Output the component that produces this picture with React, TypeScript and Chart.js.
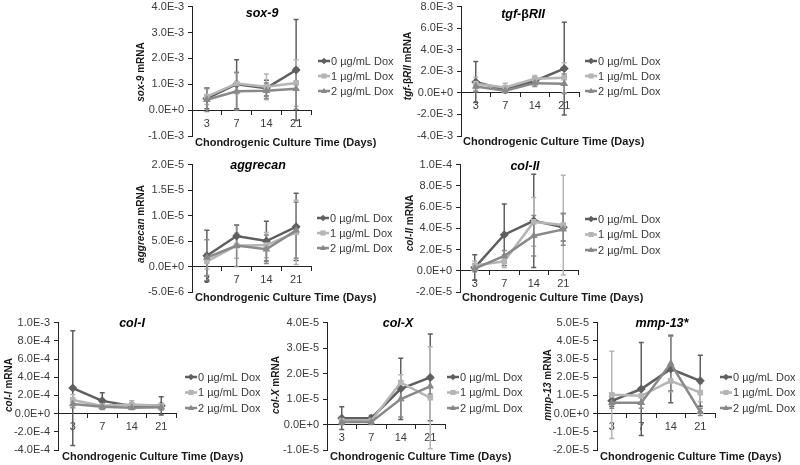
import React, { useEffect, useRef } from 'react';
import { Chart, registerables } from 'chart.js';

Chart.register(...registerables);

// ---------- data ----------
const categories = ['3', '7', '14', '21'];
const doseLabels = ['0 µg/mL Dox', '1 µg/mL Dox', '2 µg/mL Dox'];
const xAxisTitle = 'Chondrogenic Culture Time (Days)';

const sox9Dose0 = [4.5e-4, 1.0e-3, 8.5e-4, 1.55e-3];
const sox9Dose1 = [5.2e-4, 1.03e-3, 9.0e-4, 1.05e-3];
const sox9Dose2 = [4.0e-4, 7.3e-4, 7.5e-4, 8.3e-4];
const sox9Err0 = [4.0e-4, 9.5e-4, 3.0e-4, 1.95e-3];
const sox9Err1 = [3.0e-4, 4.0e-4, 5.0e-4, 9.0e-4];
const sox9Err2 = [4.5e-4, 7.3e-4, 3.0e-4, 8.0e-4];

const tgfDose0 = [1.0e-3, 3.0e-4, 1.1e-3, 2.25e-3];
const tgfDose1 = [8.5e-4, 5.0e-4, 1.3e-3, 1.4e-3];
const tgfDose2 = [6.0e-4, 2.0e-4, 9.0e-4, 8.5e-4];
const tgfErr0 = [1.9e-3, 2.0e-4, 3.0e-4, 4.3e-3];
const tgfErr1 = [6.0e-4, 4.0e-4, 3.0e-4, 1.4e-3];
const tgfErr2 = [5.0e-4, 2.0e-4, 3.0e-4, 9.0e-4];

const aggDose0 = [2.1e-6, 6.0e-6, 5.0e-6, 7.8e-6];
const aggDose1 = [1.0e-6, 4.1e-6, 4.2e-6, 6.7e-6];
const aggDose2 = [1.75e-6, 4.1e-6, 3.4e-6, 7.1e-6];
const aggErr0 = [5.0e-6, 2.1e-6, 3.9e-6, 6.6e-6];
const aggErr1 = [1.5e-6, 2.5e-6, 2.5e-6, 6.3e-6];
const aggErr2 = [3.5e-6, 4.1e-6, 2.8e-6, 5.5e-6];

const col2Dose0 = [3.0e-6, 3.4e-5, 4.7e-5, 4.1e-5];
const col2Dose1 = [5.0e-6, 9.0e-6, 4.6e-5, 4.3e-5];
const col2Dose2 = [2.0e-6, 1.4e-5, 3.3e-5, 3.9e-5];
const col2Err0 = [1.2e-5, 2.9e-5, 4.4e-5, 1.3e-5];
const col2Err1 = [4.0e-6, 6.0e-6, 2.3e-5, 4.7e-5];
const col2Err2 = [3.0e-6, 5.0e-6, 1.9e-5, 1.5e-5];

const col1Dose0 = [2.8e-4, 1.4e-4, 8.5e-5, 8.5e-5];
const col1Dose1 = [1.5e-4, 8.5e-5, 1.0e-4, 8.5e-5];
const col1Dose2 = [1.05e-4, 7.5e-5, 6.5e-5, 7.0e-5];
const col1Err0 = [6.3e-4, 9.0e-5, 2.0e-5, 1.0e-4];
const col1Err1 = [6.0e-5, 3.0e-5, 4.0e-5, 3.0e-5];
const col1Err2 = [4.0e-5, 3.0e-5, 2.0e-5, 3.0e-5];

const col10Dose0 = [2.5e-6, 2.5e-6, 1.4e-5, 1.85e-5];
const col10Dose1 = [1.5e-6, 1.5e-6, 1.65e-5, 1.05e-5];
const col10Dose2 = [1.0e-6, 1.0e-6, 1.0e-5, 1.5e-5];
const col10Err0 = [4.5e-6, 1.0e-6, 1.2e-5, 1.7e-5];
const col10Err1 = [1.5e-6, 1.0e-6, 3.0e-6, 2.0e-5];
const col10Err2 = [1.0e-6, 1.0e-6, 7.0e-6, 3.0e-6];

const mmpDose0 = [7.0e-6, 1.35e-5, 2.45e-5, 1.8e-5];
const mmpDose1 = [1.03e-5, 9.8e-6, 1.8e-5, 1.15e-5];
const mmpDose2 = [6.0e-6, 6.0e-6, 2.75e-5, 1.0e-6];
const mmpErr0 = [3.0e-6, 2.55e-5, 1.85e-5, 1.4e-5];
const mmpErr1 = [2.4e-5, 4.0e-6, 6.0e-6, 5.0e-6];
const mmpErr2 = [3.0e-6, 3.0e-6, 1.5e-5, 2.0e-6];

// ---------- style ----------
const seriesColors = ['#5f5f5f', '#b5b5b5', '#898989'];
const seriesStyles = ['rectRot', 'rect', 'triangle'];
const seriesRadii = [4.5, 4, 4.5];
const FONT = '"Liberation Sans", Arial, Helvetica, sans-serif';
const TEXT_COLOR = '#3a3a3a';
const AXIS_COLOR = '#222222';

type Seg = { t: string; i?: boolean };

interface PanelCfg {
  key: string;
  title: Seg[];
  yTitle: Seg[];
  values: number[][];
  errors: number[][];
  yMin: number;
  yMax: number;
  yStep: number;
  plot: [number, number, number, number];
  titleAt: [number, number];
  yTitleAt: [number, number];
  xTitleAt: [number, number];
  legendAt: [number, number, number];
}

const PANELS: PanelCfg[] = [
  {
    key: 'sox9',
    title: [{ t: 'sox-9', i: true }],
    yTitle: [{ t: 'sox-9', i: true }, { t: ' mRNA' }],
    values: [sox9Dose0, sox9Dose1, sox9Dose2],
    errors: [sox9Err0, sox9Err1, sox9Err2],
    yMin: -1e-3, yMax: 4e-3, yStep: 1e-3,
    plot: [192, 6, 311, 136],
    titleAt: [262, 14],
    yTitleAt: [141, 72],
    xTitleAt: [195, 143],
    legendAt: [318, 61, 15],
  },
  {
    key: 'tgf',
    title: [{ t: 'tgf-', i: true }, { t: 'β' }, { t: 'RII', i: true }],
    yTitle: [{ t: 'tgf-', i: true }, { t: 'β' }, { t: 'RII', i: true }, { t: ' mRNA' }],
    values: [tgfDose0, tgfDose1, tgfDose2],
    errors: [tgfErr0, tgfErr1, tgfErr2],
    yMin: -4e-3, yMax: 8e-3, yStep: 2e-3,
    plot: [461, 6, 579, 136],
    titleAt: [523, 15],
    yTitleAt: [408, 66],
    xTitleAt: [463, 142],
    legendAt: [585, 61, 15],
  },
  {
    key: 'agg',
    title: [{ t: 'aggrecan', i: true }],
    yTitle: [{ t: 'aggrecan', i: true }, { t: ' mRNA' }],
    values: [aggDose0, aggDose1, aggDose2],
    errors: [aggErr0, aggErr1, aggErr2],
    yMin: -5e-6, yMax: 2e-5, yStep: 5e-6,
    plot: [192, 164, 311, 292],
    titleAt: [258, 166],
    yTitleAt: [141, 224],
    xTitleAt: [195, 298],
    legendAt: [317, 218, 15],
  },
  {
    key: 'col2',
    title: [{ t: 'col-II', i: true }],
    yTitle: [{ t: 'col-II', i: true }, { t: ' mRNA' }],
    values: [col2Dose0, col2Dose1, col2Dose2],
    errors: [col2Err0, col2Err1, col2Err2],
    yMin: -2e-5, yMax: 1e-4, yStep: 2e-5,
    plot: [460, 164, 578, 292],
    titleAt: [525, 167],
    yTitleAt: [410, 223],
    xTitleAt: [462, 298],
    legendAt: [585, 219, 15.5],
  },
  {
    key: 'col1',
    title: [{ t: 'col-I', i: true }],
    yTitle: [{ t: 'col-I', i: true }, { t: ' mRNA' }],
    values: [col1Dose0, col1Dose1, col1Dose2],
    errors: [col1Err0, col1Err1, col1Err2],
    yMin: -4e-4, yMax: 1e-3, yStep: 2e-4,
    plot: [58, 322, 176, 450],
    titleAt: [132, 324],
    yTitleAt: [9, 385],
    xTitleAt: [62, 457],
    legendAt: [185, 377, 15.5],
  },
  {
    key: 'col10',
    title: [{ t: 'col-X', i: true }],
    yTitle: [{ t: 'col-X', i: true }, { t: ' mRNA' }],
    values: [col10Dose0, col10Dose1, col10Dose2],
    errors: [col10Err0, col10Err1, col10Err2],
    yMin: -1e-5, yMax: 4e-5, yStep: 1e-5,
    plot: [327, 322, 445, 450],
    titleAt: [398, 324],
    yTitleAt: [276, 385],
    xTitleAt: [330, 457],
    legendAt: [447, 377, 15.5],
  },
  {
    key: 'mmp',
    title: [{ t: 'mmp-13*', i: true }],
    yTitle: [{ t: 'mmp-13', i: true }, { t: ' mRNA' }],
    values: [mmpDose0, mmpDose1, mmpDose2],
    errors: [mmpErr0, mmpErr1, mmpErr2],
    yMin: -2e-5, yMax: 5e-5, yStep: 1e-5,
    plot: [597, 322, 715, 450],
    titleAt: [662, 324],
    yTitleAt: [548, 385],
    xTitleAt: [600, 457],
    legendAt: [720, 377, 15.5],
  },
];

const PAD_L = 64; // canvas space left of the plot area
const Y_AXIS_W = 58; // width reserved for the y axis box (ticks + labels)
const PAD_T = 10;
const PAD_R = 150;
const PAD_B = 18;

function drawSegs(ctx: CanvasRenderingContext2D, segs: Seg[], size: number, x: number, y: number, align: 'left' | 'center') {
  const fontFor = (s: Seg) => `${s.i ? 'italic ' : ''}bold ${size}px ${FONT}`;
  const widths = segs.map((s) => {
    ctx.font = fontFor(s);
    return ctx.measureText(s.t).width;
  });
  const total = widths.reduce((a, b) => a + b, 0);
  let cx = align === 'center' ? x - total / 2 : x;
  ctx.textAlign = 'left';
  ctx.textBaseline = 'middle';
  segs.forEach((s, k) => {
    ctx.font = fontFor(s);
    ctx.fillText(s.t, cx, y);
    cx += widths[k];
  });
}

function drawMarker(ctx: CanvasRenderingContext2D, style: string, x: number, y: number, r: number) {
  ctx.beginPath();
  if (style === 'rectRot') {
    ctx.moveTo(x, y - r);
    ctx.lineTo(x + r, y);
    ctx.lineTo(x, y + r);
    ctx.lineTo(x - r, y);
  } else if (style === 'rect') {
    ctx.rect(x - r * 0.8, y - r * 0.8, r * 1.6, r * 1.6);
  } else {
    ctx.moveTo(x, y - r);
    ctx.lineTo(x + r * 0.95, y + r * 0.65);
    ctx.lineTo(x - r * 0.95, y + r * 0.65);
  }
  ctx.closePath();
  ctx.fill();
}

function Panel({ cfg }: { cfg: PanelCfg }) {
  const ref = useRef<HTMLCanvasElement | null>(null);
  const [l, t, r, b] = cfg.plot;
  const cLeft = l - PAD_L;
  const cTop = t - PAD_T;
  const cW = r - l + PAD_L + PAD_R;
  const cH = b - t + PAD_T + PAD_B;

  useEffect(() => {
    if (!ref.current) return;
    const errorBars = {
      id: 'errorBars' + cfg.key,
      beforeDatasetsDraw(chart: any) {
        const ctx = chart.ctx as CanvasRenderingContext2D;
        const xs = chart.scales.x;
        const ys = chart.scales.y;
        const area = chart.chartArea;
        ctx.save();
        ctx.beginPath();
        ctx.rect(area.left, area.top, area.right - area.left, area.bottom - area.top);
        ctx.clip();
        cfg.values.forEach((vals, k) => {
          ctx.strokeStyle = seriesColors[k];
          ctx.lineWidth = 1.5;
          vals.forEach((v, i) => {
            const e = cfg.errors[k][i];
            const x = xs.getPixelForValue(i);
            const y1 = ys.getPixelForValue(v + e);
            const y2 = ys.getPixelForValue(v - e);
            ctx.beginPath();
            ctx.moveTo(x, y1);
            ctx.lineTo(x, y2);
            ctx.moveTo(x - 2.5, y1);
            ctx.lineTo(x + 2.5, y1);
            ctx.moveTo(x - 2.5, y2);
            ctx.lineTo(x + 2.5, y2);
            ctx.stroke();
          });
        });
        ctx.restore();
      },
    };
    const texts = {
      id: 'texts' + cfg.key,
      afterDraw(chart: any) {
        const ctx = chart.ctx as CanvasRenderingContext2D;
        ctx.save();
        ctx.fillStyle = '#000000';
        drawSegs(ctx, cfg.title, 12.5, cfg.titleAt[0] - cLeft, cfg.titleAt[1] - cTop, 'center');
        ctx.fillStyle = '#1a1a1a';
        drawSegs(ctx, [{ t: xAxisTitle }], 11, cfg.xTitleAt[0] - cLeft, cfg.xTitleAt[1] - cTop, 'left');
        ctx.save();
        ctx.translate(cfg.yTitleAt[0] - cLeft, cfg.yTitleAt[1] - cTop);
        ctx.rotate(-Math.PI / 2);
        drawSegs(ctx, cfg.yTitle, 10, 0, 0, 'center');
        ctx.restore();
        // legend
        const [lx, ly, ls] = cfg.legendAt;
        doseLabels.forEach((lab, k) => {
          const x0 = lx - cLeft;
          const y0 = ly - cTop + k * ls;
          ctx.strokeStyle = seriesColors[k];
          ctx.fillStyle = seriesColors[k];
          ctx.lineWidth = 2.5;
          ctx.beginPath();
          ctx.moveTo(x0, y0);
          ctx.lineTo(x0 + 12, y0);
          ctx.stroke();
          drawMarker(ctx, seriesStyles[k], x0 + 6, y0, 3.2);
          ctx.fillStyle = TEXT_COLOR;
          ctx.font = `11px ${FONT}`;
          ctx.textAlign = 'left';
          ctx.textBaseline = 'middle';
          ctx.fillText(lab, x0 + 13, y0 + 0.5);
        });
        ctx.restore();
      },
    };
    const chart = new Chart(ref.current, {
      type: 'line',
      data: {
        labels: categories,
        datasets: cfg.values.map((vals, k) => ({
          label: doseLabels[k],
          data: vals,
          borderColor: seriesColors[k],
          backgroundColor: seriesColors[k],
          borderWidth: 2.5,
          pointStyle: seriesStyles[k] as any,
          pointRadius: seriesRadii[k],
          pointBorderWidth: 0,
          pointBackgroundColor: seriesColors[k],
          pointBorderColor: seriesColors[k],
          tension: 0,
          order: 3 - k,
        })),
      },
      options: {
        responsive: false,
        animation: false,
        devicePixelRatio: 1,
        events: [],
        layout: { padding: { left: PAD_L - Y_AXIS_W, top: PAD_T, right: PAD_R, bottom: PAD_B } },
        plugins: {
          legend: { display: false },
          title: { display: false },
          tooltip: { enabled: false },
        },
        scales: {
          x: {
            type: 'category',
            position: { y: 0 } as any,
            offset: true,
            grid: {
              offset: true,
              drawOnChartArea: false,
              drawTicks: true,
              tickLength: 4,
              color: AXIS_COLOR,
              lineWidth: 1,
            },
            border: { display: true, color: AXIS_COLOR, width: 1 },
            ticks: {
              font: { family: FONT, size: 11 },
              color: TEXT_COLOR,
              padding: 3,
              maxRotation: 0,
              autoSkip: false,
            },
          },
          y: {
            type: 'linear',
            min: cfg.yMin,
            max: cfg.yMax,
            grid: {
              drawOnChartArea: false,
              drawTicks: true,
              tickLength: 4,
              color: AXIS_COLOR,
              lineWidth: 1,
            },
            border: { display: true, color: AXIS_COLOR, width: 1 },
            ticks: {
              stepSize: cfg.yStep,
              autoSkip: false,
              font: { family: FONT, size: 11 },
              color: TEXT_COLOR,
              padding: 4,
              callback: (v: any) => Number(v).toExponential(1).toUpperCase(),
            },
            afterFit: (s: any) => {
              s.width = Y_AXIS_W;
            },
          },
        },
      },
      plugins: [errorBars, texts],
    } as any);
    return () => chart.destroy();
  }, [cfg]);

  return (
    <canvas
      ref={ref}
      width={cW}
      height={cH}
      style={{ position: 'absolute', left: cLeft, top: cTop, width: cW, height: cH }}
    />
  );
}

export default function App() {
  return (
    <div
      style={{
        position: 'fixed',
        left: 0,
        top: 0,
        width: 800,
        height: 465,
        overflow: 'hidden',
        background: '#ffffff',
      }}
    >
      {PANELS.map((p) => (
        <Panel key={p.key} cfg={p} />
      ))}
    </div>
  );
}
